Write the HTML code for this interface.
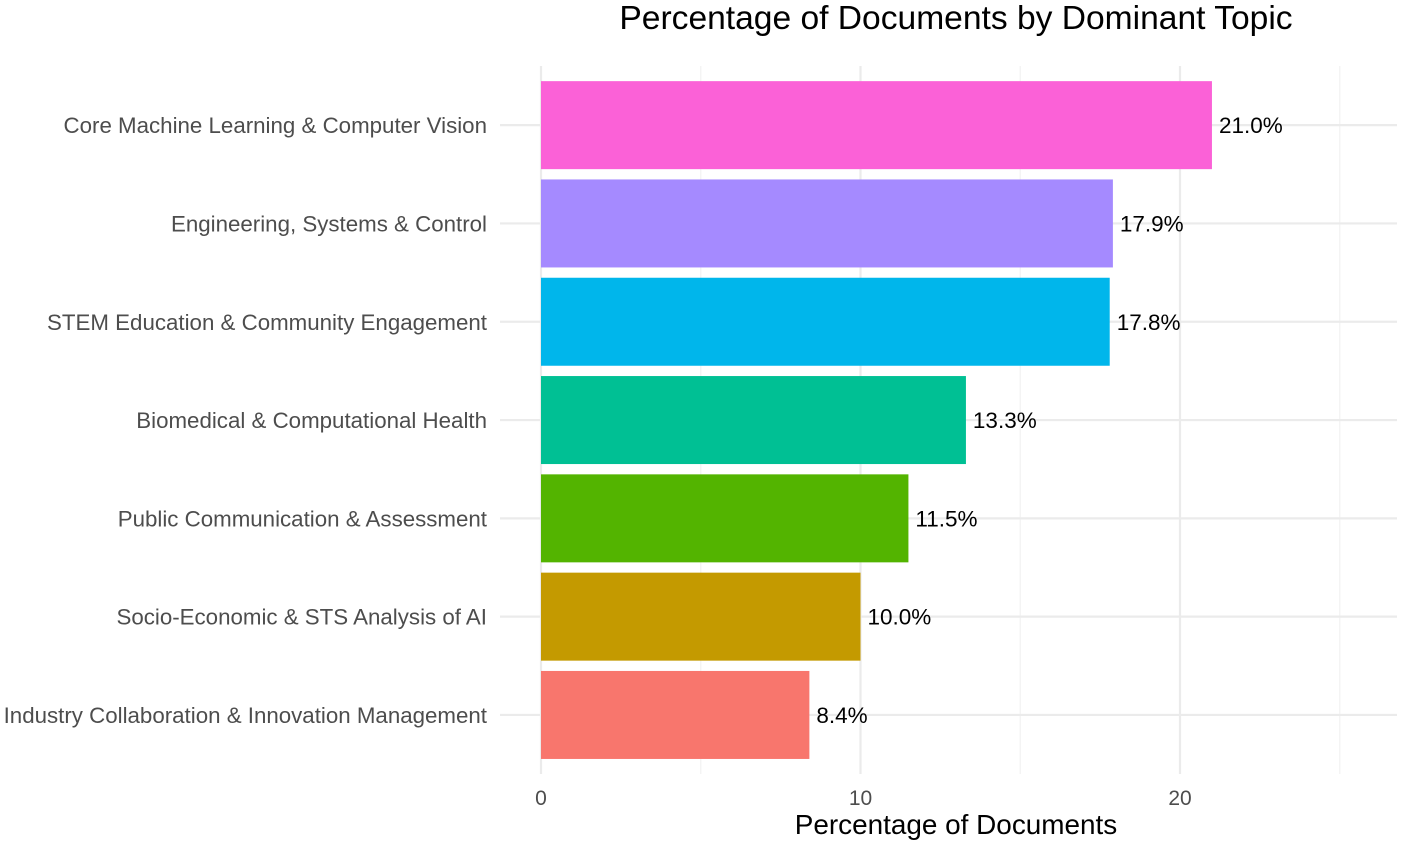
<!DOCTYPE html>
<html><head><meta charset="utf-8"><style>
body{margin:0;background:#fff;}
svg text{font-family:"Liberation Sans",Arial,sans-serif;}
</style></head><body>
<svg id="chart" width="1417" height="845" xmlns="http://www.w3.org/2000/svg"></svg>
<script>
const categories = ["Core Machine Learning & Computer Vision","Engineering, Systems & Control","STEM Education & Community Engagement","Biomedical & Computational Health","Public Communication & Assessment","Socio-Economic & STS Analysis of AI","Industry Collaboration & Innovation Management"];
const values = [21.0,17.9,17.8,13.3,11.5,10.0,8.4];
const colors = ["#FB61D7","#A58AFF","#00B6EB","#00C094","#53B400","#C49A00","#F8766D"];
const majorTicks = [0,10,20];
const minorTicks = [5,15,25];

const svg = document.getElementById('chart');
const NS = 'http://www.w3.org/2000/svg';
const x0 = 541, pxPerUnit = 31.95;
const xs = v => x0 + v * pxPerUnit;
const bandTop = 76, band = 98.3, barH = 88;
const ys = i => bandTop + i * band + band/2;
function mk(tag, attrs, parent){const e=document.createElementNS(NS,tag);for(const k in attrs)e.setAttribute(k,attrs[k]);(parent||svg).appendChild(e);return e;}

const grid = mk('g',{});


minorTicks.forEach(t=>{const l=mk('line',{x1:xs(t),x2:xs(t),y1:66,y2:774,stroke:'#f2f2f2','stroke-width':1.2},grid);});
majorTicks.forEach(t=>{const l=mk('line',{x1:xs(t),x2:xs(t),y1:66,y2:774,stroke:'#ebebeb','stroke-width':2.2},grid);});
categories.forEach((c,i)=>{const l=mk('line',{x1:500,x2:1397,y1:ys(i),y2:ys(i),stroke:'#ebebeb','stroke-width':2.2},grid);});

categories.forEach((c,i)=>{
  const r=mk('rect',{x:xs(0),y:ys(i)-barH/2,width:xs(values[i])-xs(0),height:barH,fill:colors[i]});
  
  
  const vt=mk('text',{x:xs(values[i])+7,y:ys(i)+8,'font-size':22.5,fill:'#000'});
  vt.textContent=values[i].toFixed(1)+'%';
  
  
  const ct=mk('text',{x:487,y:ys(i)+8,'font-size':22.3,fill:'#4d4d4d','text-anchor':'end'});
  ct.textContent=c;
  
  
});
majorTicks.forEach(t=>{
  const tt=mk('text',{x:xs(t),y:805,'font-size':21,fill:'#4d4d4d','text-anchor':'middle'});
  tt.textContent=t;
  
  
});
const xt=mk('text',{x:956,y:834,'font-size':27.9,fill:'#000','text-anchor':'middle'});
xt.textContent='Percentage of Documents';


const ti=mk('text',{x:956,y:29,'font-size':33.6,fill:'#000','text-anchor':'middle'});
ti.textContent='Percentage of Documents by Dominant Topic';


</script>
</body></html>
